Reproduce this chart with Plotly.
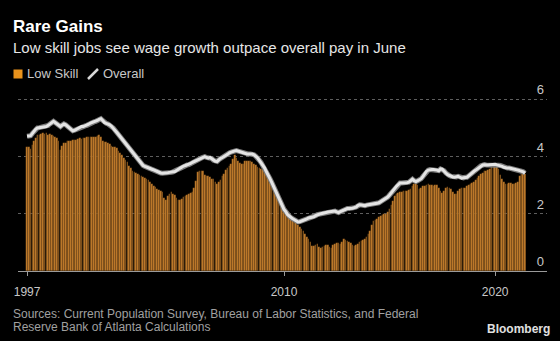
import pandas as pd
import plotly.graph_objects as go

# ---------------- data ----------------
start_month = "1997-11-01"

low_skill = [
    4.31, 4.31, 4.27, 4.40, 4.55, 4.65, 4.73, 4.76, 4.78, 4.80,
    4.78, 4.80, 4.76, 4.78, 4.74, 4.70, 4.66, 4.64, 4.55, 4.23,
    4.35, 4.46, 4.48, 4.52, 4.54, 4.54, 4.57, 4.58, 4.58, 4.60,
    4.64, 4.62, 4.64, 4.64, 4.66, 4.67, 4.66, 4.68, 4.67, 4.68,
    4.72, 4.73, 4.66, 4.55, 4.50, 4.49, 4.45, 4.42, 4.36, 4.33,
    4.31, 4.28, 4.20, 4.10, 4.03, 3.95, 3.88, 3.80, 3.68, 3.58,
    3.50, 3.46, 3.42, 3.38, 3.35, 3.32, 3.28, 3.25, 3.21, 3.18,
    3.10, 3.02, 2.96, 2.93, 2.85, 2.81, 2.78, 2.76, 2.55, 2.49,
    2.62, 2.69, 2.75, 2.70, 2.64, 2.55, 2.49, 2.49, 2.52, 2.58,
    2.62, 2.66, 2.69, 2.72, 2.75, 2.90, 3.13, 3.45, 3.48, 3.50,
    3.48, 3.35, 3.30, 3.30, 3.28, 3.22, 3.20, 3.12, 3.04, 3.10,
    3.18, 3.30, 3.40, 3.54, 3.60, 3.68, 3.75, 3.90, 4.05, 3.95,
    3.83, 3.78, 3.75, 3.73, 3.85, 3.84, 3.83, 3.83, 3.80, 3.74,
    3.70, 3.64, 3.59, 3.56, 3.54, 3.50, 3.45, 3.32, 3.22, 3.10,
    2.98, 2.86, 2.74, 2.58, 2.48, 2.38, 2.28, 2.15, 2.05, 1.93,
    1.86, 1.78, 1.74, 1.70, 1.62, 1.55, 1.48, 1.38, 1.28, 1.18,
    1.12, 1.00, 0.87, 0.86, 0.90, 0.93, 0.85, 0.81, 0.84, 0.87,
    0.89, 0.90, 0.83, 0.81, 0.90, 0.95, 0.99, 0.97, 0.95, 1.02,
    1.10, 1.08, 1.04, 1.01, 0.99, 0.90, 0.87, 0.92, 0.95, 1.00,
    1.04, 1.08, 1.12, 1.20, 1.28, 1.40, 1.60, 1.74, 1.78, 1.82,
    1.88, 1.92, 1.96, 1.98, 2.00, 2.05, 2.15, 2.30, 2.45, 2.62,
    2.70, 2.73, 2.75, 2.76, 2.78, 2.80, 2.80, 2.82, 2.85, 2.95,
    3.02, 3.06, 3.00, 2.85, 2.88, 2.95, 2.98, 3.01, 3.02, 3.00,
    2.99, 2.98, 3.01, 3.00, 2.88, 2.80, 2.72, 2.78, 2.88, 2.92,
    2.90, 2.85, 2.75, 2.68, 2.70, 2.80, 2.85, 2.88, 2.90, 2.90,
    2.95, 3.00, 3.04, 3.07, 3.12, 3.19, 3.25, 3.30, 3.38, 3.42,
    3.48, 3.50, 3.53, 3.56, 3.62, 3.66, 3.70, 3.68, 3.55, 3.35,
    3.20, 3.12, 3.05, 3.04, 3.06, 3.07, 3.05, 3.04, 3.08, 3.12,
    3.30, 3.38, 3.40, 3.38,
]

overall = [
    4.70, 4.70, 4.72, 4.80, 4.88, 4.95, 4.99, 5.00, 5.01, 5.02,
    5.03, 5.04, 5.08, 5.13, 5.18, 5.22, 5.18, 5.13, 5.08, 5.04,
    5.09, 5.13, 5.10, 5.04, 4.98, 4.93, 4.89, 4.91, 4.94, 4.96,
    5.00, 5.04, 5.04, 5.06, 5.08, 5.12, 5.16, 5.18, 5.20, 5.22,
    5.25, 5.29, 5.31, 5.25, 5.18, 5.15, 5.13, 5.10, 5.05, 4.99,
    4.91, 4.83, 4.76, 4.68, 4.60, 4.53, 4.45, 4.37, 4.29, 4.21,
    4.12, 4.04, 3.96, 3.87, 3.80, 3.74, 3.68, 3.65, 3.62, 3.59,
    3.57, 3.55, 3.53, 3.50, 3.47, 3.44, 3.42, 3.41, 3.41, 3.42,
    3.43, 3.44, 3.44, 3.46, 3.47, 3.52, 3.55, 3.59, 3.63, 3.66,
    3.68, 3.70, 3.71, 3.75, 3.79, 3.82, 3.85, 3.89, 3.91, 3.94,
    3.97, 3.99, 3.96, 3.94, 3.96, 3.92, 3.86, 3.83, 3.82, 3.88,
    3.93, 3.96, 3.99, 4.03, 4.07, 4.12, 4.15, 4.17, 4.19, 4.20,
    4.18, 4.16, 4.13, 4.10, 4.08, 4.08, 4.08, 4.08, 4.08, 4.05,
    4.00, 3.95, 3.86, 3.78, 3.68, 3.59, 3.47, 3.37, 3.23, 3.10,
    2.96, 2.84, 2.70, 2.57, 2.43, 2.30, 2.15, 2.07, 1.97, 1.92,
    1.86, 1.82, 1.79, 1.75, 1.71, 1.72, 1.74, 1.77, 1.79, 1.82,
    1.85, 1.86, 1.87, 1.89, 1.93, 1.97, 1.98, 2.00, 2.02, 2.03,
    2.05, 2.06, 2.07, 2.08, 2.10, 2.09, 2.06, 2.04, 2.07, 2.10,
    2.14, 2.17, 2.18, 2.18, 2.18, 2.19, 2.21, 2.23, 2.28, 2.31,
    2.30, 2.28, 2.28, 2.30, 2.31, 2.32, 2.32, 2.32, 2.33, 2.36,
    2.38, 2.42, 2.45, 2.49, 2.52, 2.58, 2.65, 2.72, 2.80, 2.88,
    2.96, 3.02, 3.07, 3.07, 3.07, 3.07, 3.08, 3.10, 3.15, 3.20,
    3.15, 3.12, 3.15, 3.18, 3.22, 3.30, 3.40, 3.48, 3.52, 3.54,
    3.54, 3.54, 3.54, 3.52, 3.50, 3.56, 3.55, 3.50, 3.42, 3.36,
    3.33, 3.30, 3.28, 3.27, 3.28, 3.30, 3.27, 3.24, 3.25, 3.27,
    3.27, 3.32, 3.38, 3.43, 3.48, 3.52, 3.57, 3.62, 3.67, 3.70,
    3.71, 3.70, 3.70, 3.71, 3.72, 3.73, 3.72, 3.70, 3.69, 3.68,
    3.65, 3.62, 3.60, 3.59, 3.59, 3.58, 3.57, 3.55, 3.53, 3.52,
    3.50, 3.48, 3.46, 3.41,
]

months = pd.date_range(start_month, periods=len(low_skill), freq="MS")

x_tick_vals = ["1997-11-01", "2010-01-01", "2020-01-01"]
x_tick_text = ["1997", "2010", "2020"]
y_tick_vals = [0, 2, 4, 6]

series_names = ["Low Skill", "Overall"]
title = "Rare Gains"
subtitle = "Low skill jobs see wage growth outpace overall pay in June"
source_lines = [
    "Sources: Current Population Survey, Bureau of Labor Statistics, and Federal",
    "Reserve Bank of Atlanta Calculations",
]

# ---------------- layout helpers ----------------
W, H = 560, 341
ML, MR, MT, MB = 18, 13, 78, 70
PW, PH = W - ML - MR, H - MT - MB
Y_TOP = 6.0 * PH / 172.0  # keeps 0..6 spanning the same pixels as the reference


def px(xp):
    return (xp - ML) / PW


def py(yp):
    return (H - MB - yp) / PH


FONT = "Liberation Sans, Arial, sans-serif"
BAR_COLOR = "#c27d2c"

fig = go.Figure()
fig.add_bar(
    x=months, y=low_skill, name=series_names[0],
    marker=dict(color=BAR_COLOR, line=dict(width=0.5, color="rgba(0,0,0,0.3)")),
)
fig.add_scatter(
    x=months, y=overall, mode="lines", showlegend=False, hoverinfo="skip",
    line=dict(color="#7c7c7c", width=5),
)
fig.add_scatter(
    x=months, y=overall, mode="lines", name=series_names[1],
    line=dict(color="#e4e4e4", width=3),
)

fig.update_layout(
    width=W, height=H,
    margin=dict(l=ML, r=MR, t=MT, b=MB),
    paper_bgcolor="black", plot_bgcolor="black",
    bargap=0.0, showlegend=False,
    font=dict(family=FONT, color="#c8c8c8"),
)
fig.update_xaxes(
    type="date", range=["1997-05-28", "2022-06-16"],
    tickvals=x_tick_vals, ticktext=x_tick_text,
    showgrid=False, zeroline=False,
    showline=True, linecolor="#9a9a9a", linewidth=1,
    ticks="outside", ticklen=4, tickcolor="#9a9a9a",
    tickfont=dict(size=12, color="#c8c8c8", family=FONT),
    ticklabelstandoff=6,
)
fig.update_yaxes(
    range=[0, Y_TOP], side="right", tickvals=y_tick_vals,
    showgrid=True, gridcolor="#5e5e5e", griddash="dot", gridwidth=1,
    ticklabelposition="inside top", ticks="",
    tickfont=dict(size=13, color="#c8c8c8", family=FONT),
    zeroline=False, showline=False,
)

ann = [
    dict(text="<b>" + title + "</b>", x=px(11), y=py(27), xanchor="left", yanchor="middle",
         font=dict(size=17, color="#ffffff", family=FONT)),
    dict(text=subtitle, x=px(11), y=py(47), xanchor="left", yanchor="middle",
         font=dict(size=15, color="#e6e6e6", family=FONT)),
    dict(text=series_names[0], x=px(25), y=py(74), xanchor="left", yanchor="middle",
         font=dict(size=13, color="#c8c8c8", family=FONT)),
    dict(text=series_names[1], x=px(101), y=py(74), xanchor="left", yanchor="middle",
         font=dict(size=13, color="#c8c8c8", family=FONT)),
    dict(text=source_lines[0], x=px(11), y=py(314), xanchor="left", yanchor="middle",
         font=dict(size=12, color="#a0a0a0", family=FONT)),
    dict(text=source_lines[1], x=px(11), y=py(327), xanchor="left", yanchor="middle",
         font=dict(size=12, color="#a0a0a0", family=FONT)),
    dict(text="<b>Bloomberg</b>", x=px(552), y=py(329), xanchor="right", yanchor="middle",
         font=dict(size=12, color="#e0e0e0", family=FONT)),
]
for a in ann:
    a.update(xref="paper", yref="paper", showarrow=False)
fig.update_layout(annotations=ann)

fig.update_layout(shapes=[
    dict(type="rect", xref="paper", yref="paper",
         x0=px(13.5), x1=px(22.5), y0=py(78.5), y1=py(69.5),
         fillcolor="#e8921c", line=dict(width=0)),
    dict(type="line", xref="paper", yref="paper",
         x0=px(88), y0=py(79), x1=px(98), y1=py(69),
         line=dict(color="#d8d8d8", width=2.5)),
])

fig.write_html("out.html")
